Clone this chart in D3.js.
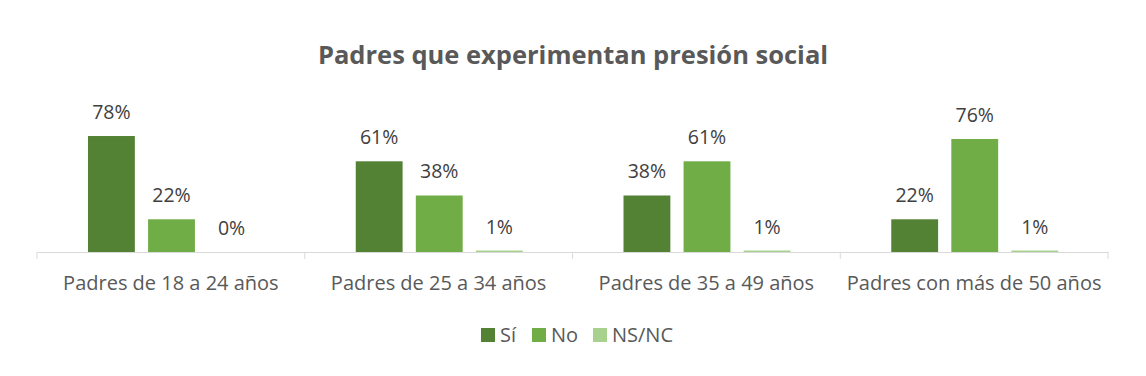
<!DOCTYPE html>
<html>
<head>
<meta charset="utf-8">
<script src="https://cdn.jsdelivr.net/npm/d3@7"></script>
<style>
  body { margin: 0; background: #fff; }
  text { font-family: "Open Sans", "Liberation Sans", sans-serif; }
</style>
</head>
<body>
<svg id="chart" width="1146" height="376"></svg>
<script>
const categories = ["Padres de 18 a 24 años", "Padres de 25 a 34 años", "Padres de 35 a 49 años", "Padres con más de 50 años"];
const seriesNames = ["Sí", "No", "NS/NC"];
const si = [78, 61, 38, 22];
const no = [22, 38, 61, 76];
const nsnc = [0, 1, 1, 1];
const colors = ["#548235", "#70ad47", "#a9d18e"];

const svg = d3.select("#chart");
const baseY = 252;

const values = [si, no, nsnc];
const rows = categories.map((c, i) => ({cat: c, vals: values.map((s, j) => ({name: seriesNames[j], v: s[i]}))}));

const x0 = d3.scaleBand().domain(categories).range([37, 1108]).padding(0);
const x1 = d3.scaleBand().domain(seriesNames).range([51, 218]).paddingInner(0.22).paddingOuter(0);
const y = d3.scaleLinear().domain([0, 100]).range([baseY, 103.3]);
const color = d3.scaleOrdinal().domain(seriesNames).range(colors);

// Title
svg.append("text")
  .attr("x", 573).attr("y", 64)
  .attr("text-anchor", "middle")
  .attr("font-size", 25.5).attr("font-weight", "bold")
  .attr("fill", "#595959")
  .text("Padres que experimentan presión social");

// Axis
const axis = svg.append("g")
  .attr("transform", `translate(0,${baseY})`)
  .call(d3.axisBottom(x0).tickSize(0).tickPadding(24).tickSizeOuter(0));
axis.select(".domain").attr("stroke", "#d9d9d9");
axis.selectAll("text").attr("font-size", 20).attr("fill", "#595959").attr("font-family", "Open Sans");

// boundary ticks
svg.append("g").selectAll("line")
  .data(d3.range(categories.length + 1))
  .enter().append("line")
  .attr("x1", i => x0.range()[0] + i * x0.step())
  .attr("x2", i => x0.range()[0] + i * x0.step())
  .attr("y1", baseY).attr("y2", baseY + 7)
  .attr("stroke", "#d9d9d9");

// Bars
const groups = svg.selectAll(".grp")
  .data(rows).enter().append("g")
  .attr("class", "grp")
  .attr("transform", d => `translate(${x0(d.cat)},0)`);

groups.selectAll("rect")
  .data(d => d.vals).enter().append("rect")
  .attr("x", d => x1(d.name))
  .attr("width", x1.bandwidth())
  .attr("y", d => y(d.v))
  .attr("height", d => baseY - y(d.v))
  .attr("fill", d => color(d.name));

groups.selectAll(".lbl")
  .data(d => d.vals).enter().append("text")
  .attr("class", "lbl")
  .attr("x", d => x1(d.name) + x1.bandwidth() / 2)
  .attr("y", d => y(d.v) - 17)
  .attr("text-anchor", "middle")
  .attr("font-size", 19.5).attr("fill", "#404040")
  .text(d => d.v + "%");

// Legend
const legendX = [481, 532, 593];
const legend = svg.append("g").selectAll("g")
  .data(seriesNames).enter().append("g")
  .attr("transform", (d, i) => `translate(${legendX[i]},328)`);
legend.append("rect").attr("width", 14).attr("height", 14).attr("fill", d => color(d));
legend.append("text").attr("x", 19).attr("y", 14)
  .attr("font-size", 20).attr("fill", "#595959")
  .text(d => d);
</script>
</body>
</html>
